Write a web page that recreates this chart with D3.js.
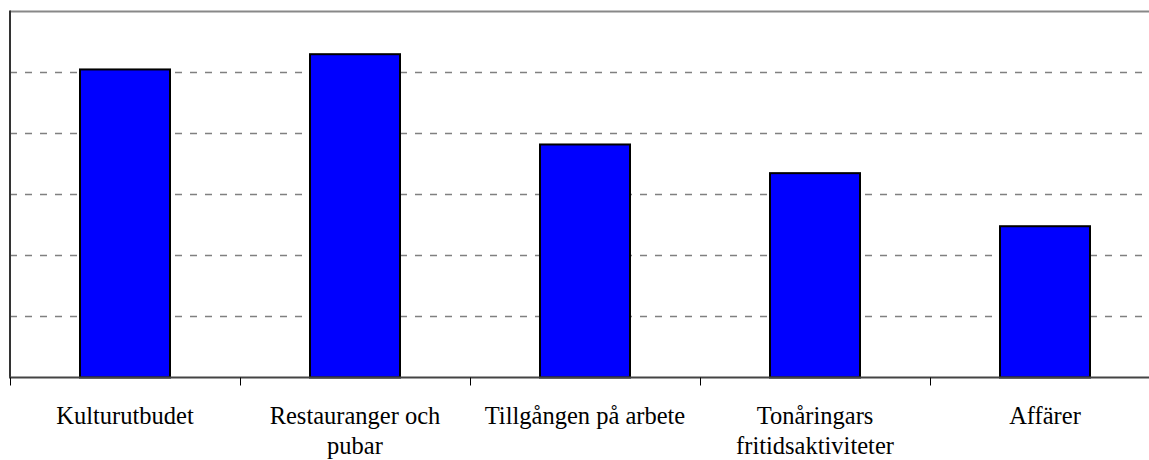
<!DOCTYPE html>
<html>
<head>
<meta charset="utf-8">
<script src="https://cdn.jsdelivr.net/npm/d3@7"></script>
<style>
  html, body { margin: 0; padding: 0; background: #fff; }
  svg { display: block; }
  .lbl { font-family: "Liberation Serif", "Times New Roman", Times, "DejaVu Serif", serif; font-size: 24.5px; }
</style>
</head>
<body>
<svg id="chart" width="1149" height="460"></svg>
<script>
const categories = [
  ["Kulturutbudet"],
  ["Restauranger och", "pubar"],
  ["Tillgången på arbete"],
  ["Tonåringars", "fritidsaktiviteter"],
  ["Affärer"]
];
const values = [5.05, 5.30, 3.82, 3.35, 2.48];
const yTicks = [0, 1, 2, 3, 4, 5, 6];

(function () {
const svg = d3.select("#chart");
const plotLeft = 10, plotRight = 1160, plotTop = 11.5, plotBottom = 377.5;

const x = d3.scaleBand()
  .domain(d3.range(categories.length))
  .range([plotLeft, plotRight])
  .padding(0);
const y = d3.scaleLinear().domain([0, 6]).range([plotBottom, plotTop]);

// Gridlines (dashed)
svg.append("g")
  .selectAll("line")
  .data(yTicks.filter(d => d > 0 && d < 6))
  .join("line")
  .attr("x1", plotLeft).attr("x2", plotRight)
  .attr("y1", d => y(d)).attr("y2", d => y(d))
  .attr("stroke", "#808080")
  .attr("stroke-width", 1.5)
  .attr("stroke-dasharray", "7,8");

// Top border
svg.append("line")
  .attr("x1", plotLeft).attr("x2", plotRight)
  .attr("y1", y(6)).attr("y2", y(6))
  .attr("stroke", "#888")
  .attr("stroke-width", 2);

// Bars
const barW = 90;
svg.append("g")
  .selectAll("rect")
  .data(values)
  .join("rect")
  .attr("x", (d, i) => x(i) + x.bandwidth() / 2 - barW / 2)
  .attr("width", barW)
  .attr("y", d => y(d))
  .attr("height", d => y(0) - y(d))
  .attr("fill", "#0000ff")
  .attr("stroke", "#000")
  .attr("stroke-width", 2);

// Left axis line
svg.append("line")
  .attr("x1", plotLeft).attr("x2", plotLeft)
  .attr("y1", y(6) - 1).attr("y2", y(0))
  .attr("stroke", "#333")
  .attr("stroke-width", 2);

// Bottom axis line
svg.append("line")
  .attr("x1", plotLeft - 1).attr("x2", plotRight)
  .attr("y1", y(0)).attr("y2", y(0))
  .attr("stroke", "#444")
  .attr("stroke-width", 2);

// Tick marks at category boundaries
svg.append("g")
  .selectAll("line")
  .data(d3.range(categories.length))
  .join("line")
  .attr("x1", i => Math.round(x(i)) + 0.5)
  .attr("x2", i => Math.round(x(i)) + 0.5)
  .attr("y1", y(0))
  .attr("y2", y(0) + 8)
  .attr("stroke", "#000")
  .attr("stroke-width", 1);

// Category labels
const labels = svg.append("g")
  .selectAll("text")
  .data(categories)
  .join("text")
  .attr("class", "lbl")
  .attr("x", (d, i) => x(i) + x.bandwidth() / 2)
  .attr("y", 423.5)
  .attr("text-anchor", "middle")
  .attr("fill", "#000");

labels.selectAll("tspan")
  .data(d => d)
  .join("tspan")
  .attr("x", function () { return d3.select(this.parentNode).attr("x"); })
  .attr("dy", (d, i) => i === 0 ? 0 : 30)
  .text(d => d);
})();
</script>
</body>
</html>
